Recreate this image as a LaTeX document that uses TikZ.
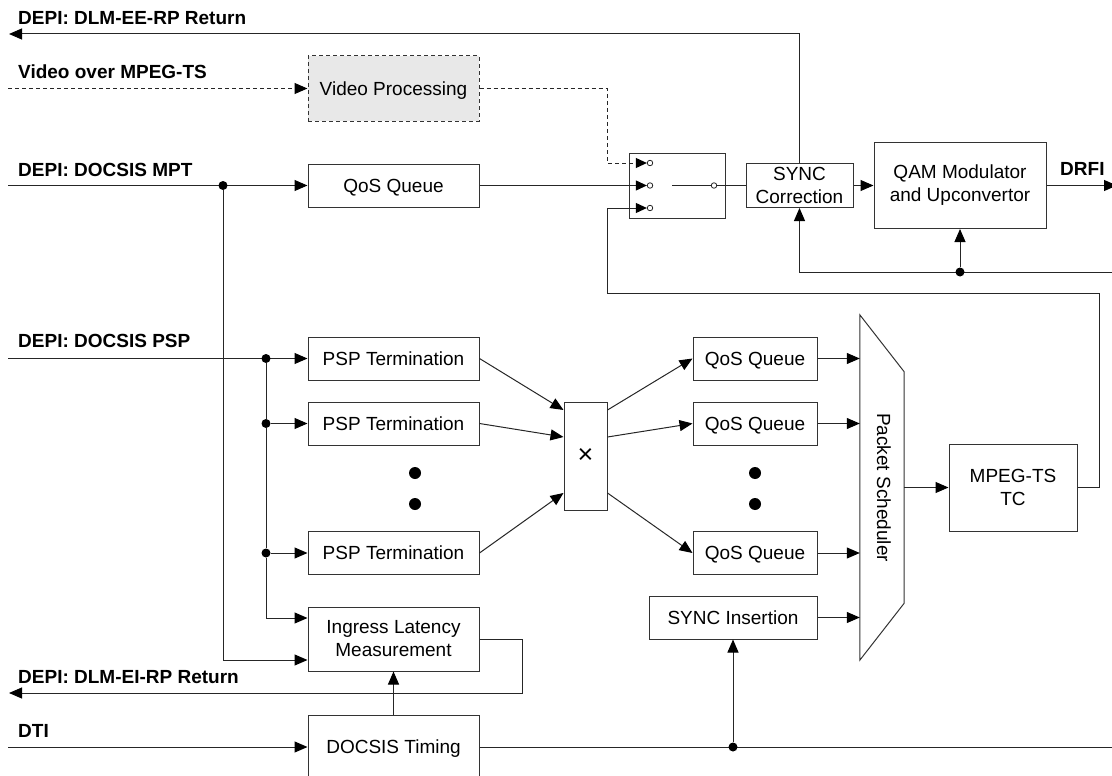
\documentclass[tikz,border=0pt]{standalone}
\usepackage{fontspec}
\setmainfont{Liberation Sans}
\usetikzlibrary{arrows.meta}
\begin{document}
\begin{tikzpicture}[x=1pt,y=-1pt,
  ln/.style={draw=black!85, line width=1pt},
  arr/.style={ln,-{Triangle[length=13pt,width=11pt,color=black]}},
  sarr/.style={ln,-{Triangle[length=11pt,width=10pt,color=black]}},
  dsh/.style={dash pattern=on 4pt off 3pt},
  box/.style={draw=black!80, line width=1pt, inner sep=0pt, font=\fontsize{19}{23}\selectfont, align=center},
  one/.style={text height=13.7pt, text depth=0pt},
  lbl/.style={anchor=base west, inner sep=0pt, font=\fontsize{19}{23}\selectfont\bfseries},
  jdot/.style={circle, fill=black, inner sep=0pt, minimum size=9pt},
  edot/.style={circle, fill=black, inner sep=0pt, minimum size=12pt},
  sdot/.style={circle, draw=black!85, fill=white, line width=0.8pt, inner sep=0pt, minimum size=5.5pt},
]
\useasboundingbox (0,0) rectangle (1112,776);

% ---------- labels ----------
\node[lbl] (lee)   at (18,25)   {DEPI: DLM-EE-RP Return};
\node[lbl] (lvid)  at (18,78)   {Video over MPEG-TS};
\node[lbl] (lmpt)  at (18,176)  {DEPI: DOCSIS MPT};
\node[lbl] (lpsp)  at (18,347)  {DEPI: DOCSIS PSP};
\node[lbl] (lei)   at (18,683)  {DEPI: DLM-EI-RP Return};
\node[lbl] (ldti)  at (18,737)  {DTI};
\node[lbl] (ldrfi) at (1060,175) {DRFI};

% ---------- boxes ----------
\node[box,one,dsh,fill=black!9,minimum width=171pt,minimum height=65pt] (vp) at (393.5,88.5) {Video Processing};
\node[box,one,minimum width=171pt,minimum height=43pt] (qos0) at (393.5,185.5) {QoS Queue};
\node[box,minimum width=96pt,minimum height=65pt] (sw) at (677,185.5) {};
\node[box,minimum width=107pt,minimum height=44pt] (sync) at (799.5,185.5) {SYNC\\Correction};
\node[box,minimum width=172pt,minimum height=86pt] (qam) at (960,185.5) {QAM Modulator\\and Upconvertor};

\node[box,one,minimum width=171pt,minimum height=43pt] (psp1) at (393.5,358.5) {PSP Termination};
\node[box,one,minimum width=171pt,minimum height=43pt] (psp2) at (393.5,423.5) {PSP Termination};
\node[box,one,minimum width=171pt,minimum height=43pt] (psp3) at (393.5,553) {PSP Termination};
\node[box,minimum width=171pt,minimum height=64pt] (ilm) at (393.5,639) {Ingress Latency\\Measurement};
\node[box,one,minimum width=171pt,minimum height=64pt] (dt) at (393.5,747) {DOCSIS Timing};

\node[box,minimum width=43pt,minimum height=108pt,font=\fontsize{27}{27}\selectfont] (xb) at (585.5,456) {×};

\node[box,one,minimum width=124pt,minimum height=43pt] (q1) at (755,358.5) {QoS Queue};
\node[box,one,minimum width=124pt,minimum height=43pt] (q2) at (755,423.5) {QoS Queue};
\node[box,one,minimum width=124pt,minimum height=43pt] (q3) at (755,553) {QoS Queue};
\node[box,one,minimum width=168pt,minimum height=43pt] (si) at (733,617.5) {SYNC Insertion};

\node[minimum width=44pt,minimum height=345pt,inner sep=0pt] (sched) at (882,487.5) {};
\draw[draw=black!80, line width=1pt] (sched.north west) -- ([yshift=-57pt]sched.north east)
  -- ([yshift=57pt]sched.south east) -- (sched.south west) -- cycle;
\node[rotate=-90,inner sep=0pt,font=\fontsize{19}{23}\selectfont] (schedtxt) at ([xshift=2pt]sched.center) {Packet Scheduler};

\node[box,minimum width=128pt,minimum height=87pt] (tc) at (1013,487.5) {MPEG-TS\\TC};

% ellipsis dots
\node[edot] (e1) at (415,473) {};
\node[edot] (e2) at (415,504) {};
\node[edot] (e3) at (755,473) {};
\node[edot] (e4) at (755,504) {};

% ---------- switch internals ----------
\node[sdot] (i1) at (650,163) {};
\node[sdot] (i2) at (650,185.5) {};
\node[sdot] (i3) at (650,208) {};
\node[sdot] (o1) at (714,185.5) {};
\coordinate (ol) at (672,185.5);
\draw[ln] (ol) -- (o1.west);
\draw[ln] (o1.east) -- (sync.west);

% ---------- coordinates for free ends ----------
\coordinate (eeout) at (9,34);
\coordinate (vidin) at (8,88.5);
\coordinate (mptin) at (8,185.5);
\coordinate (pspin) at (8,358.5);
\coordinate (eiout) at (9,693);
\coordinate (dtiin) at (8,747);
\coordinate (dtiout) at (1112,747);
\coordinate (fbin) at (1112,272);
\coordinate (drfi) at (1117,185.5);

% ---------- top connectors ----------
\draw[arr] (sync.north) |- (eeout);
\draw[arr,dsh] (vidin) -- (vp.west);
\draw[sarr,dsh] (vp.east) -- (607,88.5) |- (i1.west);
\draw[arr] (mptin) -- (qos0.west);
\draw[sarr] (qos0.east) -- (i2.west);
\draw[sarr] (tc.east) -- (1099,487.5) |- (607,293) |- (i3.west);
\draw[arr] (sync.east) -- (qam.west);
\draw[arr] (qam.east) -- (drfi);
\draw[arr] (fbin) -| (sync.south);
\node[jdot] (fbd) at (960,272) {};
\draw[arr] (fbd) -- (qam.south);

% ---------- left connectors ----------
\node[jdot] (d1) at (223,185.5) {};
\draw[arr] (d1) |- ([yshift=-21pt]ilm.west);
\draw[arr] (pspin) -- (psp1.west);
\node[jdot] (d2) at (266,358.5) {};
\node[jdot] (d3) at (266,423.5) {};
\node[jdot] (d4) at (266,553) {};
\draw[ln] (d2) -- (d3) -- (d4);
\draw[arr] (d4) |- ([yshift=21pt]ilm.west);
\draw[arr] (d3) -- (psp2.west);
\draw[arr] (d4) -- (psp3.west);

\draw[arr] (ilm.east) -- (522,639) |- (eiout);
\draw[arr] (dtiin) -- (dt.west);
\draw[arr] (dt.north) -- (ilm.south);
\draw[ln] (dt.east) -- (dtiout);
\node[jdot] (d5) at (733,747) {};
\draw[arr] (d5) -- (si.south);

% ---------- crossbar ----------
\draw[arr] (psp1.east) -- ([yshift=46pt]xb.west);
\draw[arr] (psp2.east) -- ([yshift=19pt]xb.west);
\draw[arr] (psp3.east) -- ([yshift=-37pt]xb.west);
\draw[arr] ([yshift=46pt]xb.east) -- (q1.west);
\draw[arr] ([yshift=19pt]xb.east) -- (q2.west);
\draw[arr] ([yshift=-37pt]xb.east) -- (q3.west);

% ---------- scheduler ----------
\draw[arr] (q1.east) -- (q1.east -| sched.west);
\draw[arr] (q2.east) -- (q2.east -| sched.west);
\draw[arr] (q3.east) -- (q3.east -| sched.west);
\draw[arr] (si.east) -- (si.east -| sched.west);
\draw[arr] (sched.east) -- (tc.west);
\end{tikzpicture}
\end{document}
